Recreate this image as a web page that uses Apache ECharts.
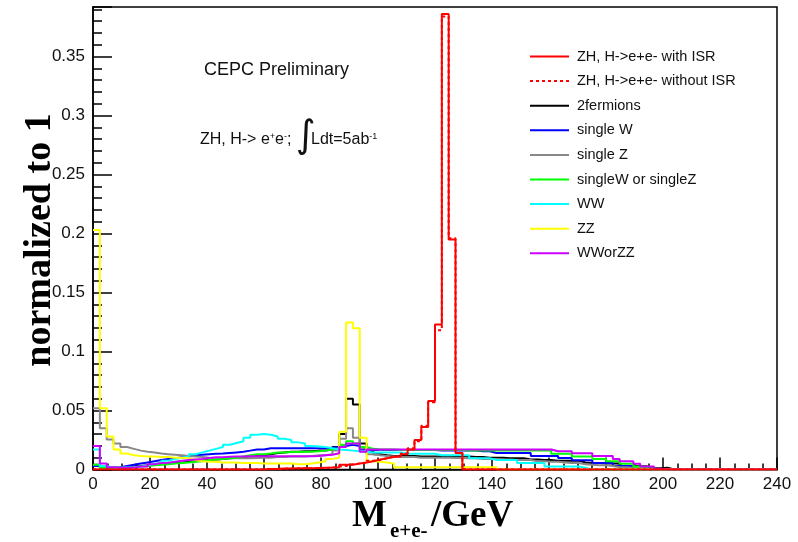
<!DOCTYPE html>
<html>
<head>
<meta charset="utf-8">
<script src="https://cdn.jsdelivr.net/npm/echarts@6/dist/echarts.min.js"></script>
<style>
  html, body { margin: 0; padding: 0; background: #ffffff; }
  #chart { width: 798px; height: 542px; }
</style>
</head>
<body>
<div id="chart"></div>
<script>
// Invariant-mass spectrum of the e+e- pair, 100 bins of 2.4 GeV from 0 to 240 GeV,
// each sample normalised to unit area.
const BIN_WIDTH = 2.4;   // GeV
const X_MIN = 0;
const X_MAX = 240;

const seriesNames = [
  'ZH, H->e+e- with ISR',
  'ZH, H->e+e- without ISR',
  '2fermions',
  'single W',
  'single Z',
  'singleW or singleZ',
  'WW',
  'ZZ',
  'WWorZZ'
];

const zhWithISR = [
  0, 0, 0, 0, 0, 0, 0, 0, 0, 0,
  0, 0, 0, 0, 0, 0, 0, 0, 0, 0,
  0, 0, 0, 0, 0, 0.0005, 0.0005, 0.0008, 0.0008, 0.001,
  0.001, 0.001, 0.0012, 0.0015, 0.0017, 0.002, 0.004, 0.004, 0.005, 0.006,
  0.007, 0.0085, 0.0095, 0.0105, 0.011, 0.013, 0.017, 0.025, 0.036, 0.058,
  0.123, 0.386, 0.195, 0.014, 0, 0, 0, 0, 0, 0,
  0, 0, 0, 0, 0, 0, 0, 0, 0, 0,
  0, 0, 0, 0, 0, 0, 0, 0, 0, 0,
  0, 0, 0, 0, 0, 0, 0, 0, 0, 0,
  0, 0, 0, 0, 0, 0, 0, 0, 0, 0
];

const zhNoISR = [
  0, 0, 0, 0, 0, 0, 0, 0, 0, 0,
  0, 0, 0, 0, 0, 0, 0, 0, 0, 0,
  0, 0, 0, 0, 0, 0.0004, 0.0005, 0.0007, 0.0008, 0.0009,
  0.001, 0.0011, 0.0012, 0.0013, 0.0015, 0.0025, 0.003, 0.0045, 0.005, 0.0055,
  0.0075, 0.008, 0.0095, 0.011, 0.0115, 0.0135, 0.018, 0.024, 0.037, 0.057,
  0.118, 0.384, 0.196, 0.014, 0, 0, 0, 0, 0, 0,
  0, 0, 0, 0, 0, 0, 0, 0, 0, 0,
  0, 0, 0, 0, 0, 0, 0, 0, 0, 0,
  0, 0, 0, 0, 0, 0, 0, 0, 0, 0,
  0, 0, 0, 0, 0, 0, 0, 0, 0, 0
];

const twoFermions = [
  0.004, 0.002, 0.0015, 0.0015, 0.002, 0.0025, 0.003, 0.0035, 0.004, 0.0045,
  0.005, 0.0055, 0.006, 0.0065, 0.007, 0.0075, 0.008, 0.0085, 0.009, 0.0095,
  0.010, 0.0105, 0.011, 0.0115, 0.012, 0.013, 0.014, 0.0145, 0.015, 0.015,
  0.0155, 0.0155, 0.016, 0.016, 0.017, 0.019, 0.030, 0.060, 0.055, 0.022,
  0.015, 0.013, 0.012, 0.0115, 0.0115, 0.0115, 0.0115, 0.011, 0.011, 0.011,
  0.011, 0.011, 0.011, 0.011, 0.011, 0.0105, 0.0105, 0.010, 0.010, 0.010,
  0.0095, 0.0095, 0.0095, 0.0085, 0.0085, 0.008, 0.008, 0.0075, 0.0075, 0.0075,
  0.0075, 0.006, 0.0055, 0.0055, 0.005, 0.005, 0.005, 0.003, 0.003, 0.003,
  0.003, 0.001, 0.001, 0.0015, 0, 0, 0, 0, 0, 0,
  0, 0, 0, 0, 0, 0, 0, 0, 0, 0
];

const singleW = [
  0.003, 0.0015, 0.0015, 0.002, 0.003, 0.004, 0.005, 0.006, 0.007, 0.008,
  0.009, 0.0095, 0.0105, 0.011, 0.012, 0.0125, 0.013, 0.0133, 0.0135, 0.014,
  0.0145, 0.015, 0.016, 0.017, 0.017, 0.018, 0.018, 0.018, 0.018, 0.018,
  0.018, 0.018, 0.018, 0.018, 0.0185, 0.019, 0.020, 0.021, 0.020, 0.017,
  0.0165, 0.0165, 0.0165, 0.0165, 0.0165, 0.0165, 0.0165, 0.0165, 0.0165, 0.0165,
  0.016, 0.016, 0.016, 0.016, 0.016, 0.016, 0.0155, 0.0155, 0.014, 0.014,
  0.014, 0.014, 0.014, 0.014, 0.0115, 0.0115, 0.0115, 0.0115, 0.0097, 0.0097,
  0.0078, 0.0078, 0.0078, 0.0055, 0.0055, 0.0055, 0.003, 0.003, 0.003, 0.0012,
  0.0012, 0, 0, 0, 0, 0, 0, 0, 0, 0,
  0, 0, 0, 0, 0, 0, 0, 0, 0, 0
];

const singleZ = [
  0.052, 0.035, 0.0255, 0.022, 0.019, 0.0175, 0.016, 0.015, 0.0145, 0.0135,
  0.013, 0.0125, 0.012, 0.0115, 0.011, 0.0105, 0.010, 0.0098, 0.0095, 0.0095,
  0.0095, 0.0095, 0.0095, 0.0098, 0.010, 0.010, 0.0105, 0.0105, 0.011, 0.011,
  0.011, 0.0115, 0.012, 0.012, 0.013, 0.016, 0.026, 0.035, 0.027, 0.018,
  0.013, 0.012, 0.0115, 0.011, 0.0105, 0.0105, 0.0105, 0.010, 0.010, 0.010,
  0.010, 0.010, 0.0098, 0.0098, 0.0095, 0.0095, 0.009, 0.009, 0.0088, 0.0085,
  0.0085, 0.008, 0.008, 0.008, 0.007, 0.007, 0.0065, 0.0065, 0.006, 0.0055,
  0.0055, 0.0045, 0.004, 0.0035, 0.0035, 0.003, 0.002, 0.002, 0.0015, 0.0015,
  0.001, 0, 0, 0, 0, 0, 0, 0, 0, 0,
  0, 0, 0, 0, 0, 0, 0, 0, 0, 0
];

const singleWorZ = [
  0.004, 0.0015, 0.0015, 0.0015, 0.0015, 0.002, 0.0025, 0.003, 0.0035, 0.004,
  0.0045, 0.005, 0.0055, 0.006, 0.0065, 0.007, 0.008, 0.0085, 0.009, 0.0095,
  0.010, 0.011, 0.012, 0.013, 0.013, 0.0135, 0.0145, 0.0145, 0.0148, 0.0148,
  0.015, 0.015, 0.0155, 0.016, 0.017, 0.018, 0.021, 0.024, 0.022, 0.019,
  0.0175, 0.017, 0.017, 0.017, 0.0165, 0.0165, 0.0165, 0.0165, 0.0165, 0.0165,
  0.0165, 0.0165, 0.0165, 0.0165, 0.016, 0.016, 0.016, 0.016, 0.016, 0.016,
  0.016, 0.016, 0.016, 0.016, 0.016, 0.016, 0.016, 0.0134, 0.0134, 0.0134,
  0.011, 0.011, 0.011, 0.0088, 0.0088, 0.0069, 0.0069, 0.0049, 0.0049, 0.0026,
  0.0026, 0.0009, 0, 0, 0, 0, 0, 0, 0, 0,
  0, 0, 0, 0, 0, 0, 0, 0, 0, 0
];

const ww = [
  0.017, 0.003, 0.0015, 0.0015, 0.0018, 0.002, 0.0026, 0.0035, 0.0048, 0.0058,
  0.0075, 0.0088, 0.010, 0.011, 0.013, 0.0145, 0.016, 0.0175, 0.019, 0.021,
  0.0225, 0.024, 0.027, 0.0295, 0.030, 0.0295, 0.028, 0.026, 0.025, 0.023,
  0.022, 0.020, 0.0195, 0.019, 0.018, 0.017, 0.0165, 0.016, 0.0155, 0.015,
  0.0145, 0.0145, 0.0145, 0.0145, 0.0145, 0.0134, 0.0134, 0.0134, 0.0134, 0.0134,
  0.012, 0.012, 0.012, 0.012, 0.012, 0.0095, 0.0095, 0.0095, 0.008, 0.008,
  0.008, 0.008, 0.0055, 0.0055, 0.0055, 0.0055, 0.0026, 0.0026, 0.0026, 0.0026,
  0.0026, 0.0015, 0, 0, 0, 0, 0, 0, 0, 0,
  0, 0, 0, 0, 0, 0, 0, 0, 0, 0,
  0, 0, 0, 0, 0, 0, 0, 0, 0, 0
];

const zz = [
  0.203, 0.052, 0.028, 0.017, 0.0135, 0.012, 0.0115, 0.011, 0.011, 0.0105,
  0.0105, 0.010, 0.010, 0.0095, 0.008, 0.007, 0.0065, 0.0065, 0.006, 0.006,
  0.006, 0.0055, 0.0055, 0.0055, 0.005, 0.005, 0.005, 0.005, 0.005, 0.0045,
  0.0045, 0.005, 0.006, 0.007, 0.009, 0.010, 0.032, 0.1245, 0.1197, 0.027,
  0.007, 0.0065, 0.006, 0.005, 0.002, 0.002, 0.002, 0.002, 0.002, 0.002,
  0.002, 0.002, 0.002, 0.002, 0.002, 0.002, 0.002, 0.002, 0.002, 0,
  0, 0, 0, 0, 0, 0, 0, 0, 0, 0,
  0, 0, 0, 0, 0, 0, 0, 0, 0, 0,
  0, 0, 0, 0, 0, 0, 0, 0, 0, 0,
  0, 0, 0, 0, 0, 0, 0, 0, 0, 0
];

const wwOrZZ = [
  0.020, 0.005, 0.002, 0.0014, 0.0014, 0.0016, 0.0026, 0.0026, 0.0045, 0.0055,
  0.0058, 0.0065, 0.0075, 0.008, 0.0085, 0.009, 0.0098, 0.0104, 0.0104, 0.0108,
  0.011, 0.011, 0.0113, 0.0113, 0.0113, 0.0113, 0.0113, 0.0113, 0.0113, 0.0113,
  0.0113, 0.0113, 0.0115, 0.012, 0.0125, 0.0137, 0.019, 0.022, 0.022, 0.015,
  0.017, 0.017, 0.017, 0.017, 0.017, 0.017, 0.017, 0.017, 0.017, 0.017,
  0.017, 0.017, 0.017, 0.017, 0.017, 0.017, 0.017, 0.017, 0.017, 0.017,
  0.017, 0.017, 0.017, 0.017, 0.017, 0.017, 0.017, 0.0154, 0.0154, 0.0154,
  0.0137, 0.0137, 0.0137, 0.0114, 0.0114, 0.0114, 0.009, 0.0069, 0.0069, 0.0049,
  0.0026, 0.0026, 0.0006, 0, 0, 0, 0, 0, 0, 0,
  0, 0, 0, 0, 0, 0, 0, 0, 0, 0
];

// Turn bin contents into step-line vertices placed at the lower bin edges,
// closing the last bin at its upper edge.
function histPoints(values) {
  const pts = values.map((v, i) => [+(i * BIN_WIDTH).toFixed(4), v]);
  pts.push([+(values.length * BIN_WIDTH).toFixed(4), values[values.length - 1]]);
  return pts;
}

function hist(name, values, color, extra) {
  return Object.assign({
    name: name,
    type: 'line',
    step: 'end',
    data: histPoints(values),
    symbol: 'none',
    showSymbol: false,
    animation: false,
    silent: true,
    color: color,
    lineStyle: { color: color, width: 2, type: 'solid' }
  }, extra || {});
}

const SANS = '"Liberation Sans", Arial, sans-serif';
const SERIF = '"Liberation Serif", "Times New Roman", serif';

const chart = echarts.init(document.getElementById('chart'), null, { renderer: 'canvas' });

chart.setOption({
  animation: false,
  backgroundColor: '#ffffff',
  grid: {
    left: 93, right: 21, top: 7, bottom: 72.5,
    show: true, borderColor: '#000', borderWidth: 1.5, backgroundColor: 'transparent'
  },
  legend: {
    orient: 'vertical',
    left: 529,
    top: 49,
    padding: 0,
    itemWidth: 39,
    itemHeight: 14,
    itemGap: 9.6,
    selectedMode: false,
    data: seriesNames,
    // line-only keys: hide the marker the line series would put in the middle
    itemStyle: { opacity: 0, color: 'rgba(0,0,0,0)', borderWidth: 0 },
    textStyle: { fontFamily: SANS, fontSize: 14.5, color: '#111', padding: [0, 0, 0, 3] }
  },
  xAxis: {
    type: 'value',
    min: X_MIN,
    max: X_MAX,
    interval: 20,
    splitLine: { show: false },
    axisLine: { lineStyle: { color: '#000', width: 1.5 } },
    axisTick: { inside: true, length: 12, lineStyle: { color: '#000', width: 1.5 } },
    minorTick: { show: true, splitNumber: 4, length: 6, lineStyle: { color: '#000', width: 1.5 } },
    axisLabel: { fontFamily: SANS, fontSize: 17, color: '#111', margin: 6 }
  },
  yAxis: {
    type: 'value',
    min: 0,
    max: 0.392,
    interval: 0.05,
    splitLine: { show: false },
    axisLine: { lineStyle: { color: '#000', width: 1.5 } },
    axisTick: { inside: true, length: 19, lineStyle: { color: '#000', width: 1.5 } },
    minorTick: { show: true, splitNumber: 5, length: 9, lineStyle: { color: '#000', width: 1.5 } },
    axisLabel: {
      fontFamily: SANS, fontSize: 17, color: '#111', margin: 8,
      showMaxLabel: false,
      formatter: function (v) { return Math.abs(v / 0.05 - Math.round(v / 0.05)) < 1e-6 ? String(+v.toFixed(2)) : ''; }
    }
  },
  series: [
    hist(seriesNames[2], twoFermions, '#000000', { z: 2 }),
    hist(seriesNames[3], singleW, '#0000ff', { z: 2 }),
    hist(seriesNames[4], singleZ, '#888888', { z: 2 }),
    hist(seriesNames[5], singleWorZ, '#00ff00', { z: 2 }),
    hist(seriesNames[6], ww, '#00ffff', { z: 2 }),
    hist(seriesNames[7], zz, '#ffff00', { z: 2 }),
    hist(seriesNames[8], wwOrZZ, '#cc00ff', { z: 2 }),
    hist(seriesNames[0], zhWithISR, '#ff0000', { z: 3 }),
    hist(seriesNames[1], zhNoISR, '#ff0000', { z: 4, lineStyle: { color: '#ff0000', width: 2, type: [3, 3] } })
  ],
  graphic: [
    {
      type: 'text', left: 204, top: 61,
      style: { text: 'CEPC Preliminary', font: '18px ' + SANS, fill: '#111' }
    },
    {
      type: 'text', x: 200, y: 140,
      style: {
        text: 'ZH, H-> e{s|+}e{s|-};',
        font: '16px ' + SANS, fill: '#111', verticalAlign: 'middle',
        rich: { s: { fontSize: 9, fontFamily: SANS, verticalAlign: 'top', fill: '#111' } }
      }
    },
    {
      type: 'text', x: 296, y: 137,
      style: { text: '\u222B', font: '38px "DejaVu Sans", sans-serif', fill: '#111', verticalAlign: 'middle' }
    },
    {
      type: 'text', x: 311, y: 140,
      style: {
        text: 'Ldt=5ab{s|-1}',
        font: '16px ' + SANS, fill: '#111', verticalAlign: 'middle',
        rich: { s: { fontSize: 9, fontFamily: SANS, verticalAlign: 'top', fill: '#111' } }
      }
    },
    {
      type: 'text', x: 40, y: 240, rotation: Math.PI / 2,
      style: {
        text: 'normalized to 1', font: 'bold 38px ' + SERIF, fill: '#000',
        align: 'center', verticalAlign: 'middle'
      }
    },
    {
      type: 'text', x: 352, y: 516,
      style: { text: 'M', font: 'bold 37px ' + SERIF, fill: '#000', verticalAlign: 'middle' }
    },
    {
      type: 'text', x: 390, y: 532,
      style: { text: 'e+e-', font: 'bold 21px ' + SERIF, fill: '#000', verticalAlign: 'middle' }
    },
    {
      type: 'text', x: 431, y: 516,
      style: { text: '/GeV', font: 'bold 37px ' + SERIF, fill: '#000', verticalAlign: 'middle' }
    }
  ]
});
</script>
</body>
</html>
